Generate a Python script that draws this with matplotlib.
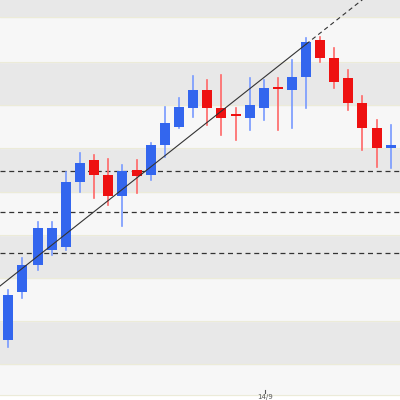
import matplotlib.pyplot as plt

# candle data in price units (chart pixel scale, higher = up)
x_pos = [8, 22, 38, 52, 66, 80, 94, 108, 122, 137, 151, 165, 179, 193, 207, 221, 236,
         250, 264, 278, 292, 306, 320, 334, 348, 362, 377, 391]
opens = [60, 108, 135, 150, 153, 218, 240, 225, 204, 230, 225, 255, 273, 292, 310, 292, 286,
         282, 292, 313, 310, 323, 360, 342, 322, 297, 272, 252]
closes = [105, 135, 172, 172, 218, 237, 225, 204, 229, 224, 255, 277, 293, 310, 292, 282, 284,
          295, 312, 311, 323, 358, 342, 318, 297, 272, 252, 255]
highs = [110, 142, 178, 178, 228, 247, 245, 241, 235, 240, 257, 293, 302, 324, 320, 325, 292,
         322, 320, 322, 340, 362, 363, 352, 330, 304, 280, 275]
lows = [53, 102, 130, 145, 150, 208, 202, 195, 174, 207, 220, 243, 272, 283, 275, 265, 260,
        270, 280, 270, 272, 292, 338, 312, 290, 250, 233, 232]
levels = [229, 188, 147]
band_edges = [5, 36, 79, 122, 165, 208, 252, 295, 338, 383, 400]

fig = plt.figure(figsize=(4, 4), dpi=100)
ax = fig.add_axes([0, 0, 1, 1])
ax.set_xlim(0, 400)
ax.set_ylim(0, 400)

for i in range(len(band_edges) - 1):
    col = "#f7f7f7" if i % 2 == 0 else "#e8e8e8"
    ax.axhspan(band_edges[i], band_edges[i + 1], color=col, zorder=0)
    ax.axhline(band_edges[i], color="#ecebd8", lw=0.8, zorder=0.5)

for lv in levels:
    ax.axhline(lv, color="#333333", lw=0.9, ls=(0, (4, 3)), zorder=1)

# trend line: solid then dashed
ax.plot([0, 306], [114, 114 + 0.79 * 306], color="#333333", lw=0.8, zorder=3)
ax.plot([306, 400], [114 + 0.79 * 306, 114 + 0.79 * 400], color="#333333", lw=0.8,
        ls=(0, (4, 3)), zorder=3)

for x, o, c, h, l in zip(x_pos, opens, closes, highs, lows):
    up = c >= o
    col = "#3366ee" if up else "#ee1111"
    wick = "#7799ff" if up else "#ff6666"
    ax.plot([x, x], [l, h], color=wick, lw=1.2, zorder=2)
    bot, top = min(o, c), max(o, c)
    ax.bar(x, max(top - bot, 1.5), bottom=bot, width=10, color=col, zorder=2.5)

ax.plot([265, 265], [7, 10], color="#555555", lw=0.8)
ax.text(265, 0, "14/9", fontsize=5, ha="center", va="bottom", color="#555555")
ax.axis("off")
fig.savefig("out.png", dpi=100)
